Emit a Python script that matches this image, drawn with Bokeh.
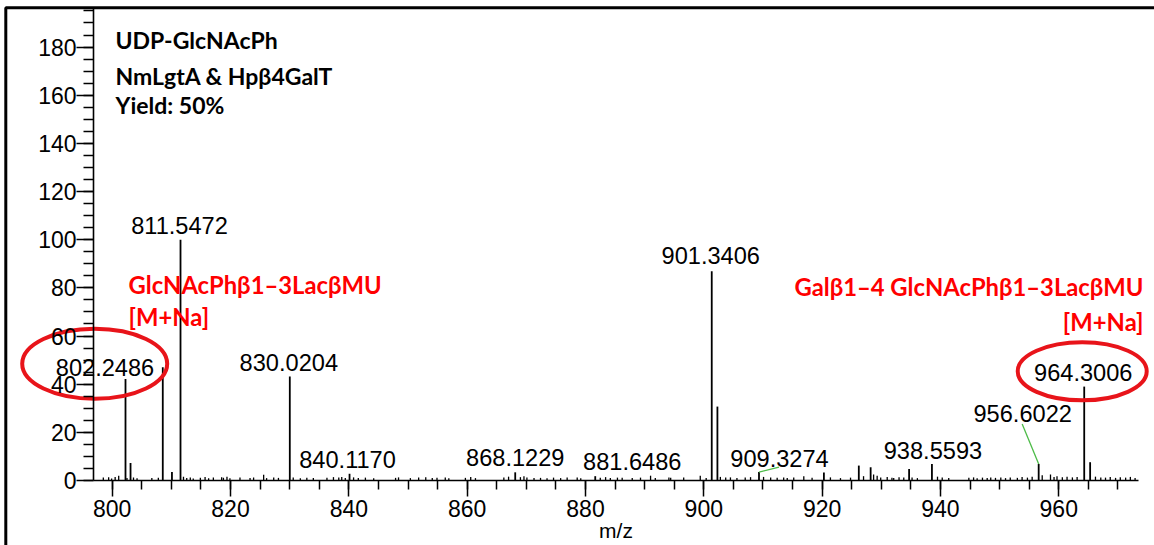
from bokeh.plotting import figure
from bokeh.models import Range1d, SingleIntervalTicker, Label, ColumnDataSource
from bokeh.core.properties import value
from bokeh.embed import file_html
from bokeh.resources import INLINE

# ---- spectrum data (m/z, relative intensity) ----
PEAK_MZ = [802.2486, 803.10, 808.55, 810.10, 811.5472, 830.0204, 840.1170,
           868.1229, 881.6486, 901.3406, 902.30, 909.3274, 920.30, 926.20,
           928.20, 934.70, 938.5593, 956.6022, 964.3006, 965.30]
PEAK_INT = [42.2, 7.3, 47.0, 3.5, 100.0, 43.2, 2.8,
            3.4, 1.8, 86.9, 30.7, 3.5, 3.3, 6.2,
            5.5, 4.8, 6.9, 6.9, 39.0, 7.6]

NOISE_MZ = [798.5, 799.4, 799.9, 800.5, 801.1, 802.5, 803.6, 804.2, 806.7, 807.8,
            812.05, 812.6, 813.2, 813.7, 814.9, 815.7, 816.3, 817.1, 818.5, 818.8,
            819.4, 819.9, 821.6, 823.3, 823.9, 825.6, 826.1, 827.3, 828.1, 830.6,
            831.8, 832.9, 834.0, 836.3, 837.4, 838.3, 838.8, 839.4, 840.8, 841.6,
            842.8, 844.2, 847.9, 848.4, 850.4, 851.8, 853.0, 854.1, 854.9, 856.3,
            856.9, 859.7, 860.6, 861.4, 866.2, 867.0, 869.0, 869.6, 870.1, 871.3,
            872.4, 873.5, 874.6, 875.8, 876.9, 878.6, 879.2, 882.5, 883.4, 884.2,
            885.4, 886.2, 887.9, 889.3, 891.0, 891.8, 894.1, 894.4, 896.6, 899.4,
            900.4, 902.8, 903.7, 904.5, 905.6, 907.0, 907.9, 910.1, 911.3, 912.4,
            913.5, 914.1, 915.2, 916.9, 918.3, 921.4, 923.1, 924.8, 927.0, 928.7,
            929.3, 929.9, 931.0, 931.8, 932.1, 933.0, 933.8, 935.2, 936.1, 939.5,
            940.3, 941.4, 944.8, 945.6, 946.2, 947.1, 947.9, 948.5, 949.3, 950.2,
            951.0, 951.8, 953.0, 953.8, 954.7, 955.5, 957.2, 958.6, 959.2, 959.7,
            960.6, 961.4, 962.3, 963.1, 966.2, 967.1, 967.9, 968.7, 969.6, 970.4,
            971.3, 972.1, 972.9]
NOISE_INT = [1.2, 1.4, 0.8, 1.5, 2.0, 1.0, 1.2, 0.9, 1.0, 1.1,
             1.6, 1.0, 1.3, 0.8, 1.1, 1.5, 0.9, 1.2, 1.4, 1.1,
             1.6, 0.9, 1.3, 1.0, 1.2, 2.4, 1.0, 1.3, 1.1, 1.2,
             0.9, 1.1, 1.0, 1.1, 1.4, 1.2, 1.5, 1.0, 1.3, 1.0,
             1.2, 0.9, 1.1, 1.3, 1.0, 1.2, 1.4, 1.0, 1.1, 1.3,
             0.9, 1.1, 1.5, 1.0, 1.3, 1.6, 1.4, 1.8, 1.2, 1.0,
             1.1, 0.9, 1.2, 1.0, 1.3, 1.2, 0.9, 1.1, 1.4, 1.0,
             1.2, 1.1, 1.0, 1.2, 2.0, 1.0, 1.3, 1.1, 1.2, 2.0,
             1.0, 1.5, 1.2, 1.3, 1.0, 1.2, 1.4, 1.5, 1.2, 1.1,
             1.3, 1.0, 1.2, 1.8, 1.1, 1.3, 1.0, 1.2, 1.8, 2.5,
             2.0, 1.3, 1.5, 1.1, 1.0, 1.4, 1.2, 1.3, 1.0, 1.6,
             1.2, 1.0, 1.1, 1.3, 0.9, 1.2, 1.0, 1.3, 1.1, 1.2,
             1.0, 1.3, 1.1, 1.5, 1.2, 1.6, 2.2, 2.5, 1.5, 1.8,
             1.4, 1.6, 1.3, 1.5, 1.6, 1.3, 1.2, 1.5, 1.1, 1.4,
             1.2, 1.5, 1.0]

# annotated peaks (m/z values printed above the sticks)
LABEL_MZ = [802.2486, 811.5472, 830.0204, 840.1170, 868.1229, 881.6486,
            901.3406, 909.3274, 938.5593, 956.6022, 964.3006]

X_TICK_STEP = 20
Y_TICK_STEP = 20

# ---- canvas / scale layout ----
W, H = 1154, 545
X_START, X_END = 781.12, 976.18
Y_START, Y_END = -26.99, 199.34
X_AXIS_BOUNDS = (796.84, 973.4)
Y_AXIS_BOUNDS = (0, 196)


def to_x(sx):
    return X_START + sx * (X_END - X_START) / W


def to_y(sy):
    return Y_END - sy * (Y_END - Y_START) / H


def px_x(x):
    return (x - X_START) / (X_END - X_START) * W


def px_y(y):
    return (Y_END - y) / (Y_END - Y_START) * H


p = figure(width=W, height=H, output_backend="svg", toolbar_location=None,
           x_range=Range1d(X_START, X_END), y_range=Range1d(Y_START, Y_END),
           min_border=0, min_border_left=0, min_border_right=0,
           min_border_top=0, min_border_bottom=0)
p.outline_line_color = None
p.xgrid.visible = False
p.ygrid.visible = False
p.background_fill_color = "white"
p.border_fill_color = "white"

FONT = "Liberation Sans"
BOLD = "Lato"

xa = p.xaxis[0]
xa.fixed_location = 0
xa.bounds = X_AXIS_BOUNDS
xa.ticker = SingleIntervalTicker(interval=X_TICK_STEP, num_minor_ticks=4)
ya = p.yaxis[0]
ya.fixed_location = X_AXIS_BOUNDS[0]
ya.bounds = Y_AXIS_BOUNDS
ya.ticker = SingleIntervalTicker(interval=Y_TICK_STEP, num_minor_ticks=4)
for ax in (xa, ya):
    ax.axis_line_color = "black"
    ax.axis_line_width = 1.6
    ax.major_tick_line_color = "black"
    ax.minor_tick_line_color = "black"
    ax.major_tick_line_width = 1.5
    ax.minor_tick_line_width = 1.5
    ax.major_tick_in = 0
    ax.minor_tick_in = 0
    ax.major_label_text_font = FONT
    ax.major_label_text_font_size = "23px"
    ax.major_label_text_color = "black"
    ax.major_label_standoff = 0
xa.major_label_standoff = 3
xa.major_tick_out = 16
xa.minor_tick_out = 9
ya.major_tick_out = 17
ya.minor_tick_out = 10
xa.axis_label = "m/z"
xa.axis_label_text_font = FONT
xa.axis_label_text_font_style = "normal"
xa.axis_label_text_font_size = "21px"
xa.axis_label_text_color = "black"
xa.axis_label_standoff = -1

# frame border (left and top edges)
bx, by = to_x(5.3), to_y(7.3)
p.line([bx, bx, X_END], [Y_START, by, by], line_color="black", line_width=3)

# spectrum sticks
p.segment(x0=NOISE_MZ, y0=[0] * len(NOISE_MZ), x1=NOISE_MZ, y1=NOISE_INT,
          line_color="black", line_width=1.3)
p.segment(x0=PEAK_MZ, y0=[0] * len(PEAK_MZ), x1=PEAK_MZ, y1=PEAK_INT,
          line_color="black", line_width=1.8)

# peak labels: pixel offsets of each label from the top of its stick
label_int = [PEAK_INT[PEAK_MZ.index(m)] for m in LABEL_MZ]
label_dx = [-20.5, -1, -1, -2, 0, 37, -1, 20.5, 1, -16, -1]
label_dy = [-11.5, -14, -13.5, -14, -14.5, -15, -15.5, -13.6, -13.4, -50, -14.4]
lab_src = ColumnDataSource(dict(x=LABEL_MZ, y=label_int,
                                text=[f"{m:.4f}" for m in LABEL_MZ],
                                dx=label_dx, dy=label_dy))
p.text(x="x", y="y", text="text", x_offset="dx", y_offset="dy", source=lab_src,
       text_align="center", text_baseline="middle",
       text_font=value(FONT), text_font_size="23.6px", text_color="black")

# green leader lines for the crowded labels
leaders = {909.3274: (20, -5), 956.6022: (-16.5, -40)}
lx0, ly0, lx1, ly1 = [], [], [], []
for m, (dx, dy) in leaders.items():
    yi = PEAK_INT[PEAK_MZ.index(m)]
    lx0.append(m)
    ly0.append(yi)
    lx1.append(to_x(px_x(m) + dx))
    ly1.append(to_y(px_y(yi) + dy))
p.segment(x0=lx0, y0=ly0, x1=lx1, y1=ly1, line_color="#4cbb47", line_width=1.3)

# red rings around the product / substrate labels
ring_mz = [802.2486, 964.3006]
ring_shift = [(-10.3, -3.7), (-1, -0.9)]
ring_size = [(145, 70), (129, 58)]
rx, ry = [], []
for m, (dx, dy), dyl in zip(ring_mz, ring_shift, [label_dy[0], label_dy[-1]]):
    i = LABEL_MZ.index(m)
    yi = label_int[i]
    rx.append(to_x(px_x(m) + label_dx[i] + dx))
    ry.append(to_y(px_y(yi) + dyl + dy))
p.ellipse(x=rx, y=ry, width=[s[0] for s in ring_size], height=[s[1] for s in ring_size],
          width_units="screen", height_units="screen",
          fill_color=None, line_color="#e8141a", line_width=4)

# text annotations
info_lines = ["UDP-GlcNAcPh", "NmLgtA & Hp\u03b24GalT", "Yield: 50%"]
for t, sy in zip(info_lines, [39.5, 75.8, 104.7]):
    p.add_layout(Label(x=to_x(115), y=to_y(sy), text=t, text_font=BOLD,
                       text_font_style="bold", text_font_size="23px",
                       text_color="black", text_baseline="middle", text_align="left"))

left_lines = ["GlcNAcPh\u03b21\u20133Lac\u03b2MU", "[M+Na]"]
for t, sy in zip(left_lines, [284, 316]):
    p.add_layout(Label(x=to_x(128), y=to_y(sy), text=t, text_font=BOLD,
                       text_font_style="bold", text_font_size="23.8px",
                       text_color="#ff0000", text_baseline="middle", text_align="left"))

right_lines = ["Gal\u03b21\u20134 GlcNAcPh\u03b21\u20133Lac\u03b2MU", "[M+Na]"]
for t, sy in zip(right_lines, [286, 321.5]):
    p.add_layout(Label(x=to_x(1143), y=to_y(sy), text=t, text_font=BOLD,
                       text_font_style="bold", text_font_size="23.8px",
                       text_color="#ff0000", text_baseline="middle", text_align="right"))

open("out.html", "w").write(file_html(p, INLINE))
